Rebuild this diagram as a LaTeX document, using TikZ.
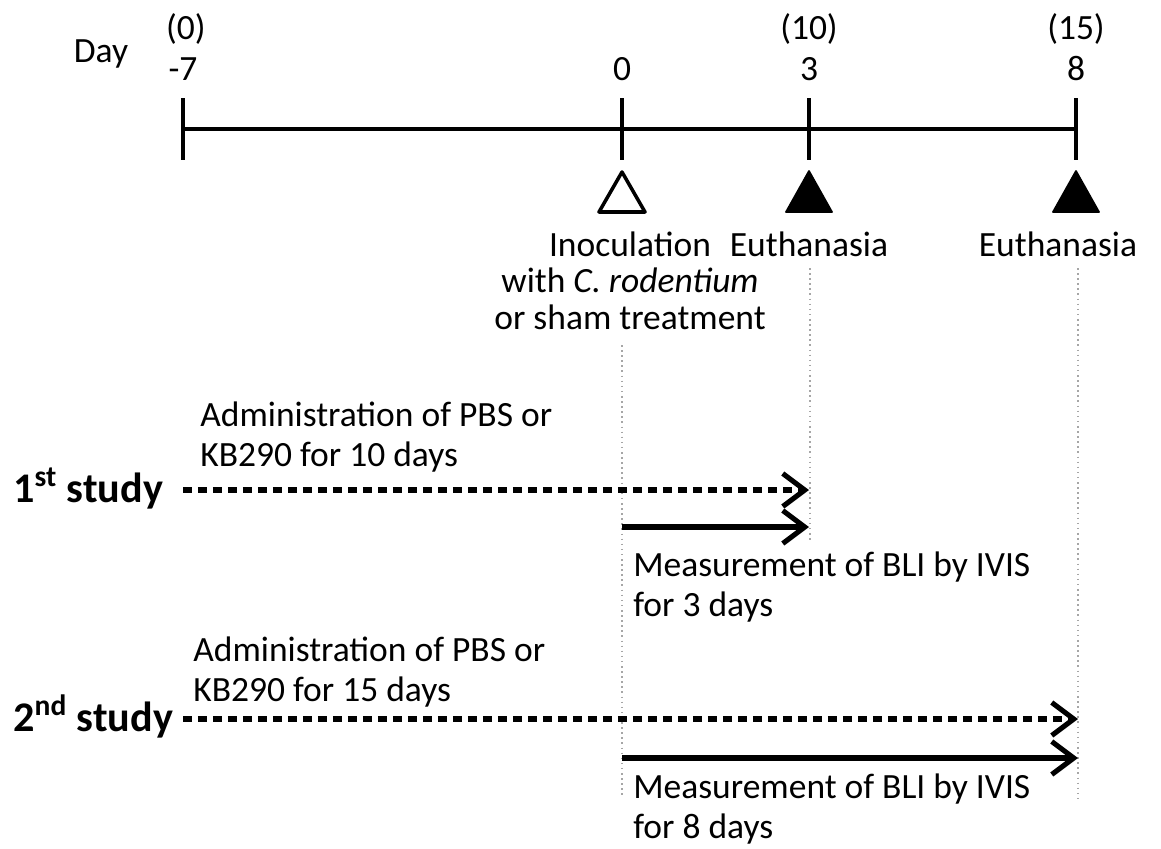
\documentclass[tikz,border=0pt]{standalone}
\usepackage{fontspec}
\setmainfont{Carlito}
\usetikzlibrary{arrows.meta,positioning}
\usetikzlibrary{calc}

\tikzset{
  lbl/.style={font=\fontsize{20.2}{22.6}\selectfont, inner sep=0pt, align=left},
  clbl/.style={lbl, align=center},
  studylbl/.style={font=\fontsize{24}{26}\selectfont\bfseries, inner sep=0pt},
  axis/.style={line width=2.1pt},
  guide/.style={gray!70, dotted, line width=0.9pt},
  period/.style={line width=2.9pt, -{Straight Barb[length=0.44cm, width=0.66cm]}},
  dosing/.style={period, dash pattern=on 0.18cm off 0.12cm}
}

\begin{document}
\begin{tikzpicture}[x=0.02cm, y=-0.02cm]
  \useasboundingbox (0, 0) rectangle (1161, 849);

  \coordinate (dm7) at (183, 129);
  \coordinate (d0) at (622, 129);
  \coordinate (d3) at (809, 129);
  \coordinate (d8) at (1076, 129);

  \node[lbl, anchor=base] (day) at (101, 62) {Day};
  \node[lbl, anchor=base] (tm7) at (183, 80) {-7};
  \node[lbl, anchor=base] (t0) at (622, 80) {0};
  \node[lbl, anchor=base] (t3) at (809, 80) {3};
  \node[lbl, anchor=base] (t8) at (1076, 80) {8};
  \node[lbl, anchor=base] (tm7b) at (186, 39) {(0)};
  \node[lbl, anchor=base] (t3b) at (809, 39) {(10)};
  \node[lbl, anchor=base] (t8b) at (1076, 39) {(15)};

  % multi-line labels sit on the baseline of their last line
  \node[clbl, anchor=base] (inoc) at (630, 329) {Inoculation\\[-2pt] with \textit{C. rodentium}\\[-2pt] or sham treatment};
  \node[clbl, anchor=base] (euth1) at (809, 256) {Euthanasia};
  \node[clbl, anchor=base] (euth2) at (1058, 256) {Euthanasia};

  \node[lbl, anchor=base west] (adm1) at (200, 466) {Administration of PBS or\\ KB290 for 10 days};
  \node[lbl, anchor=base west] (adm2) at (193, 701) {Administration of PBS or\\ KB290 for 15 days};
  \node[lbl, anchor=base west] (bli1) at (633, 616) {Measurement of BLI by IVIS\\ for 3 days};
  \node[lbl, anchor=base west] (bli2) at (633, 838) {Measurement of BLI by IVIS\\ for 8 days};

  \node[studylbl, anchor=base west] (st1) at (13, 502) {1\textsuperscript{st} study};
  \node[studylbl, anchor=base west] (st2) at (13, 731) {2\textsuperscript{nd} study};

  % start and end points of the periods
  \coordinate (s1) at (183, 490);
  \coordinate (e1) at (809, 490);
  \coordinate (m1) at (622, 527);
  \coordinate (f1) at (809, 527);
  \coordinate (s2) at (183, 719);
  \coordinate (e2) at (1078, 719);
  \coordinate (m2) at (622, 758);
  \coordinate (f2) at (1078, 758);

  % guide lines
  \coordinate (g0a) at (622, 345);
  \coordinate (g0b) at (622, 797);
  \coordinate (g3a) at (810, 268);
  \coordinate (g3b) at (810, 540);
  \coordinate (g8a) at (1078, 268);
  \coordinate (g8b) at (1078, 800);
  \draw[guide] (g0a) -- (g0b);
  \draw[guide] (g3a) -- (g3b);
  \draw[guide] (g8a) -- (g8b);

  % time axis
  \draw[axis] (dm7) -- (d8);
  \foreach \t in {dm7, d0, d3, d8}
    \draw[axis] ($(\t) + (0, -31)$) -- ($(\t) + (0, 31)$);

  % markers
  \draw[line width=2pt, line join=round, fill=white] (622, 172) -- (599, 212) -- (645, 212) -- cycle;
  \filldraw[line width=1pt, line join=round] (809, 171) -- (786, 212) -- (832, 212) -- cycle;
  \filldraw[line width=1pt, line join=round] (1076, 171) -- (1053, 212) -- (1099, 212) -- cycle;

  \draw[dosing] (s1) -- (e1);
  \draw[period] (m1) -- (f1);
  \draw[dosing] (s2) -- (e2);
  \draw[period] (m2) -- (f2);
\end{tikzpicture}
\end{document}
